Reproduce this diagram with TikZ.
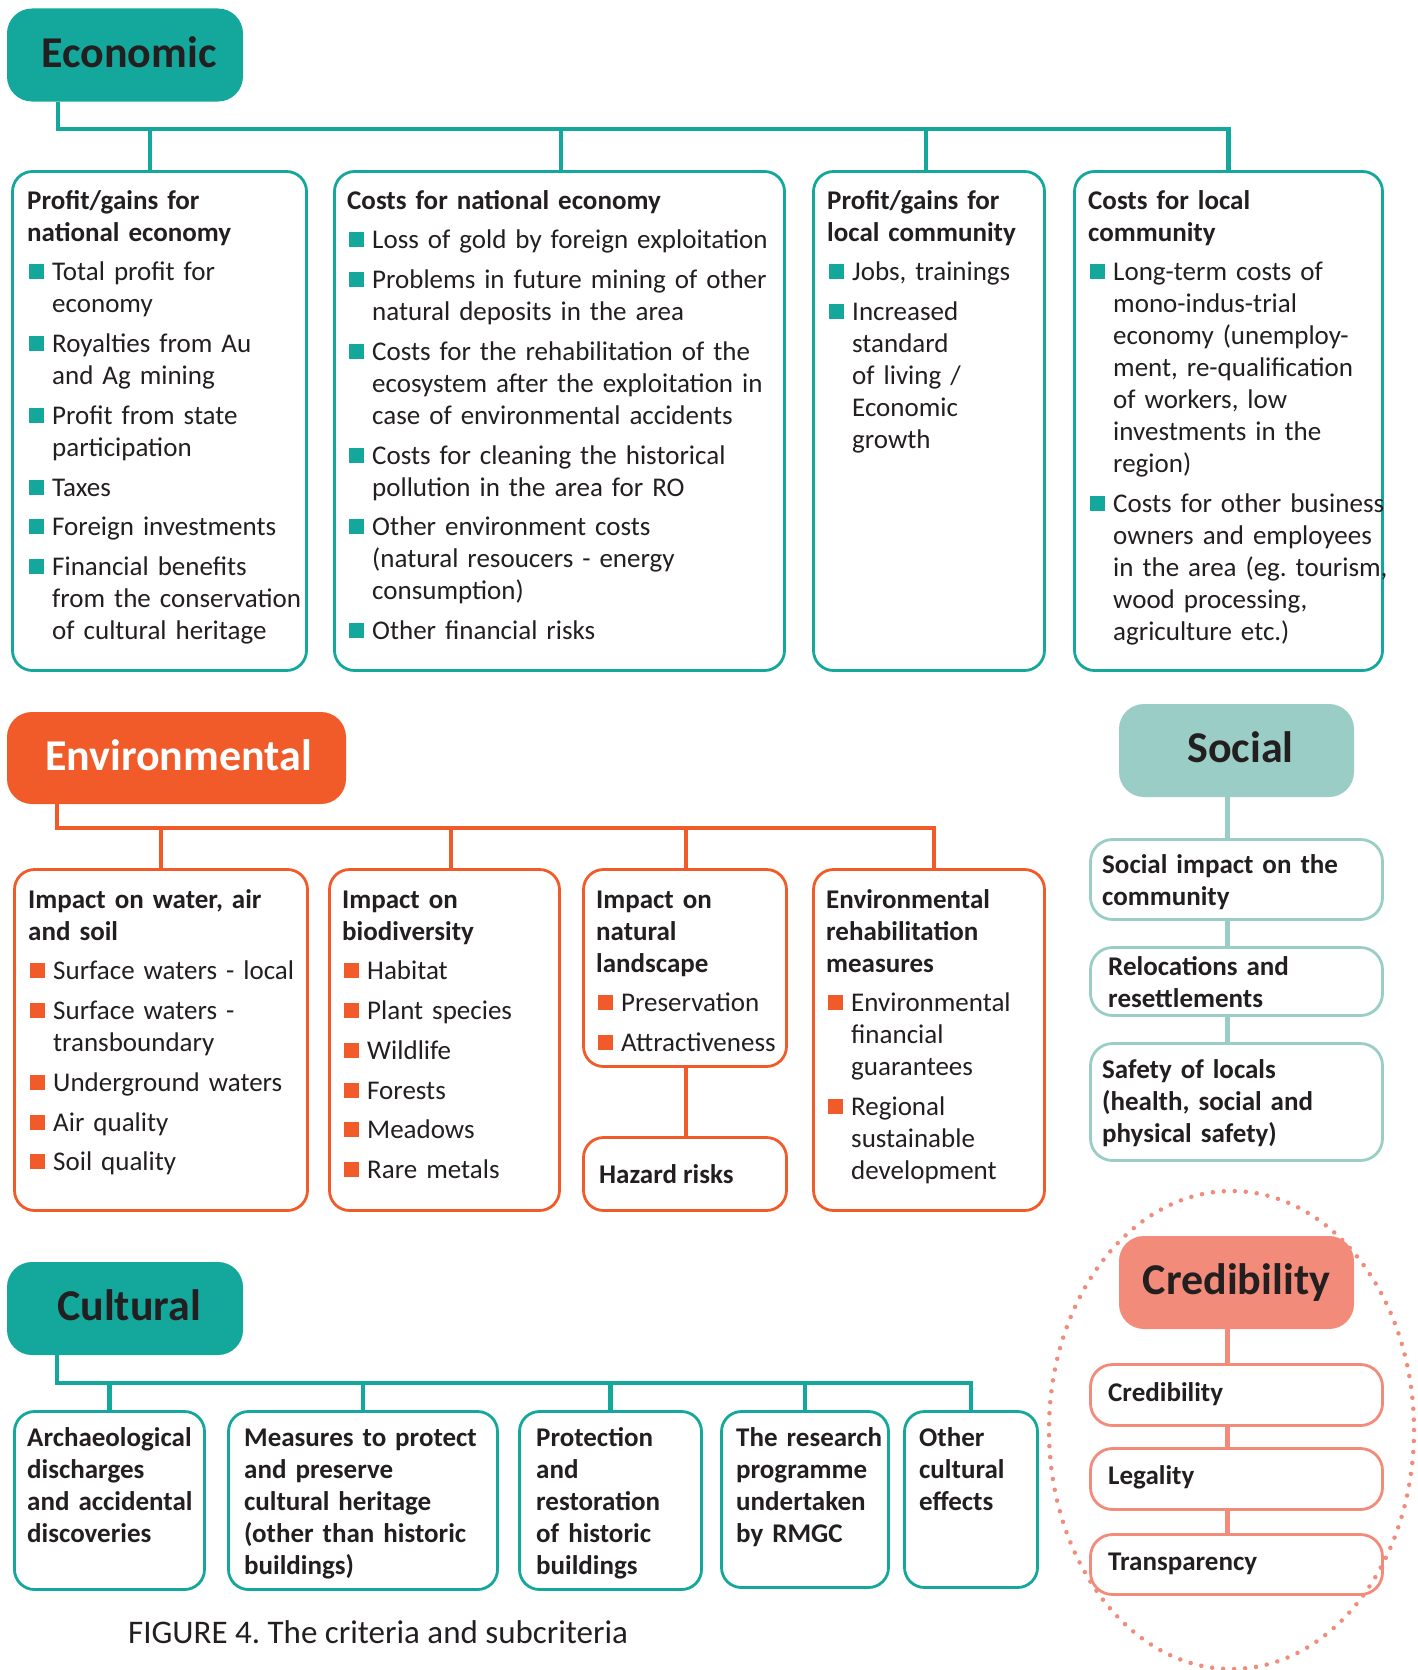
\documentclass[tikz,border=0pt]{standalone}
\usepackage{fontspec}
\setmainfont{Carlito}
\frenchspacing
\pgfdeclarelayer{bg}
\pgfsetlayers{bg,main}
\definecolor{cTeal}{RGB}{20,167,155}
\definecolor{cOrange}{RGB}{241,90,41}
\definecolor{cLTeal}{RGB}{154,205,198}
\definecolor{cSalmon}{RGB}{242,139,121}
\definecolor{cText}{RGB}{35,31,32}
\newcommand\fl{\rule{0pt}{22pt}}
\newcommand\itmx[2]{\par\vspace{7.7pt}\hangindent=25pt\hangafter=1\noindent\makebox[25pt][l]{\hspace{2pt}\textcolor{#1}{\rule[1.5pt]{15pt}{15pt}}}{\let\\\newline #2}\par}
\newcommand\itm{\itmx{cTeal}}
\newcommand\itmo{\itmx{cOrange}}
\newcommand\bx[6]{\node[#2, minimum width={#5-#3-3}, minimum height={#6-#4-3}] (#1) at ({(#3+#5)/2},{(#4+#6)/2}) {};}
\tikzset{
 hdr/.style={inner sep=0, rounded corners=25pt, text height=24pt, text depth=0pt, font=\fontsize{44}{50}\selectfont\bfseries, text=cText},
 bT/.style={draw=cTeal, line width=2.8pt, rounded corners=20pt, fill=white, inner sep=0},
 bO/.style={bT, draw=cOrange},
 bL/.style={bT, draw=cLTeal, rounded corners=22pt},
 bS/.style={bT, draw=cSalmon, rounded corners=22pt},
 tx/.style={anchor=north west, inner sep=0, align=left, text width=450pt, font=\fontsize{27}{32}\selectfont, text=cText},
 lb/.style={anchor=base west, inner sep=0, font=\fontsize{27}{32}\selectfont\bfseries, text=cText},
 cT/.style={draw=cTeal, line width=4.3pt, line join=miter},
 cO/.style={draw=cOrange, line width=4.3pt, line join=miter},
 cL/.style={draw=cLTeal, line width=5pt},
 cS/.style={draw=cSalmon, line width=5pt},
}
\begin{document}
\begin{tikzpicture}[x=1pt,y=-1pt]
\useasboundingbox (0,0) rectangle (1418,1670);
% ---------------- Economic
\node[hdr, fill=cTeal, minimum width=236, minimum height=93] (eco) at (125,55) {\hspace*{8pt}Economic};
\bx{e1}{bT}{11}{170}{308}{672}
\bx{e2}{bT}{333}{170}{786}{672}
\bx{e3}{bT}{812}{170}{1046}{672}
\bx{e4}{bT}{1073}{170}{1384}{672}
\node[tx] (e1t) at (27,187) {\fl{\bfseries Profit/gains for\\national economy}
\itm{Total profit for\\economy}
\itm{Royalties from Au\\and Ag mining}
\itm{Profit from state\\participation}
\itm{Taxes}
\itm{Foreign investments}
\itm{Financial benefits\\from the conservation\\of cultural heritage}};
\node[tx] (e2t) at (347,187) {\fl{\bfseries Costs for national economy}
\itm{Loss of gold by foreign exploitation}
\itm{Problems in future mining of other\\natural deposits in the area}
\itm{Costs for the rehabilitation of the\\ecosystem after the exploitation in\\case of environmental accidents}
\itm{Costs for cleaning the historical\\pollution in the area for RO}
\itm{Other environment costs\\(natural resoucers - energy\\consumption)}
\itm{Other financial risks}};
\node[tx] (e3t) at (827,187) {\fl{\bfseries Profit/gains for\\local community}
\itm{Jobs, trainings}
\itm{Increased\\standard\\of living /\\Economic\\growth}};
\node[tx] (e4t) at (1088,187) {\fl{\bfseries Costs for local\\community}
\itm{Long-term costs of\\mono-indus-trial\\economy (unemploy-\\ment, re-qualification\\of workers, low\\investments in the\\region)}
\itm{Costs for other business\\owners and employees\\in the area (eg. tourism,\\wood processing,\\agriculture etc.)}};
\coordinate (ebus) at (58,129);
\coordinate (ed1) at (150,129);
\coordinate (ed2) at (561,129);
\coordinate (ed3) at (926,129);
\begin{pgfonlayer}{bg}
\draw[cT] (eco.south -| ebus) -- (ebus) -- (ebus -| e4.north) -- (e4.north);
\draw[cT] (ed1) -- (ed1 |- e1.north);
\draw[cT] (ed2) -- (ed2 |- e2.north);
\draw[cT] (ed3) -- (ed3 |- e3.north);
\end{pgfonlayer}
% ---------------- Environmental
\node[hdr, fill=cOrange, text=white, minimum width=339, minimum height=92] (env) at (176.5,758) {\hspace*{4pt}Environmental};
\bx{n1}{bO}{13}{868}{309}{1212}
\bx{n2}{bO}{328}{868}{561}{1212}
\bx{n3}{bO}{582}{868}{788}{1068}
\bx{nh}{bO}{582}{1136}{788}{1212}
\bx{n4}{bO}{812}{868}{1046}{1212}
\node[tx] (n1t) at (28,886) {\fl{\bfseries Impact on water, air\\and soil}
\itmo{Surface waters - local}
\itmo{Surface waters -\\transboundary}
\itmo{Underground waters}
\itmo{Air quality}
\itmo{Soil quality}};
\node[tx] (n2t) at (342,886) {\fl{\bfseries Impact on\\biodiversity}
\itmo{Habitat}
\itmo{Plant species}
\itmo{Wildlife}
\itmo{Forests}
\itmo{Meadows}
\itmo{Rare metals}};
\node[tx] (n3t) at (596,886) {\fl{\bfseries Impact on\\natural\\landscape}
\itmo{Preservation}
\itmo{Attractiveness}};
\node[tx] (n4t) at (826,886) {\fl{\bfseries Environmental\\rehabilitation\\measures}
\itmo{Environmental\\financial\\guarantees}
\itmo{Regional\\sustainable\\development}};
\node[lb] (nht) at (599,1183) {Hazard risks};
\coordinate (nbus) at (57,828);
\coordinate (nd2) at (451,828);
\coordinate (nd3) at (686,828);
\coordinate (nd4) at (934,828);
\begin{pgfonlayer}{bg}
\draw[cO] (env.south -| nbus) -- (nbus) -- (nd4) -- (nd4 |- n4.north);
\draw[cO] (nbus -| n1.north) -- (n1.north);
\draw[cO] (nd2) -- (nd2 |- n2.north);
\draw[cO] (nd3) -- (nd3 |- n3.north);
\draw[cO] (n3.south -| nd3) -- (nh.north -| nd3);
\end{pgfonlayer}
% ---------------- Social
\node[hdr, fill=cLTeal, minimum width=235, minimum height=93] (soc) at (1236.5,750.5) {\hspace*{8pt}Social};
\bx{s1}{bL}{1089}{838}{1384}{921}
\bx{s2}{bL}{1089}{946}{1384}{1017}
\bx{s3}{bL}{1089}{1042}{1384}{1162}
\node[tx, font=\fontsize{27}{32}\selectfont\bfseries] (s1t) at (1102,851) {\fl Social impact on the\\community};
\node[tx, font=\fontsize{27}{32}\selectfont\bfseries] (s2t) at (1108,953) {\fl Relocations and\\resettlements};
\node[tx, font=\fontsize{27}{32}\selectfont\bfseries] (s3t) at (1102,1056) {\fl Safety of locals\\(health, social and\\physical safety)};
\coordinate (sx) at (1227,750);
\begin{pgfonlayer}{bg}
\draw[cL] (soc.south -| sx) -- (s1.north -| sx);
\draw[cL] (s1.south -| sx) -- (s2.north -| sx);
\draw[cL] (s2.south -| sx) -- (s3.north -| sx);
\end{pgfonlayer}
% ---------------- Credibility
\node[hdr, fill=cSalmon, minimum width=235, minimum height=93] (cre) at (1236.5,1282.5) {Credibility};
\bx{c1}{bS}{1089}{1363}{1384}{1427}
\bx{c2}{bS}{1089}{1447}{1384}{1511}
\bx{c3}{bS}{1089}{1533}{1384}{1596}
\node[lb] (c1t) at (1108,1401) {Credibility};
\node[lb] (c2t) at (1108,1484) {Legality};
\node[lb] (c3t) at (1108,1570) {Transparency};
\coordinate (cx) at (1227,1282);
\begin{pgfonlayer}{bg}
\draw[cS] (cre.south -| cx) -- (c1.north -| cx);
\draw[cS] (c1.south -| cx) -- (c2.north -| cx);
\draw[cS] (c2.south -| cx) -- (c3.north -| cx);
\end{pgfonlayer}
\draw[cSalmon, line width=4.5pt, line cap=round, dash pattern=on 0pt off 11pt] (1231.5,1430) ellipse [x radius=182.5, y radius=239];
% ---------------- Cultural
\node[hdr, fill=cTeal, minimum width=236, minimum height=93] (cul) at (125,1308.5) {\hspace*{8pt}Cultural};
\bx{k1}{bT}{13}{1410}{206}{1591}
\bx{k2}{bT}{227}{1410}{499}{1591}
\bx{k3}{bT}{518}{1410}{703}{1591}
\bx{k4}{bT}{720}{1410}{890}{1589}
\bx{k5}{bT}{903}{1410}{1039}{1589}
\node[tx, font=\fontsize{27}{32}\selectfont\bfseries] (k1t) at (27,1424) {\fl Archaeological\\discharges\\and accidental\\discoveries};
\node[tx, font=\fontsize{27}{32}\selectfont\bfseries] (k2t) at (244,1424) {\fl Measures to protect\\and preserve\\cultural heritage\\(other than historic\\buildings)};
\node[tx, font=\fontsize{27}{32}\selectfont\bfseries] (k3t) at (536,1424) {\fl Protection\\and\\restoration\\of historic\\buildings};
\node[tx, font=\fontsize{27}{32}\selectfont\bfseries] (k4t) at (736,1424) {\fl The research\\programme\\undertaken\\by RMGC};
\node[tx, font=\fontsize{27}{32}\selectfont\bfseries] (k5t) at (919,1424) {\fl Other\\cultural\\effects};
\coordinate (kbus) at (57,1383);
\begin{pgfonlayer}{bg}
\draw[cT] (cul.south -| kbus) -- (kbus) -- (kbus -| k5.north) -- (k5.north);
\draw[cT] (kbus -| k1.north) -- (k1.north);
\draw[cT] (kbus -| k2.north) -- (k2.north);
\draw[cT] (kbus -| k3.north) -- (k3.north);
\draw[cT] (kbus -| k4.north) -- (k4.north);
\end{pgfonlayer}
% ---------------- Caption
\node[anchor=base west, inner sep=0, font=\fontsize{33}{38}\selectfont, text=cText] (cap) at (128,1643) {FIGURE 4. The criteria and subcriteria};
\end{tikzpicture}
\end{document}
